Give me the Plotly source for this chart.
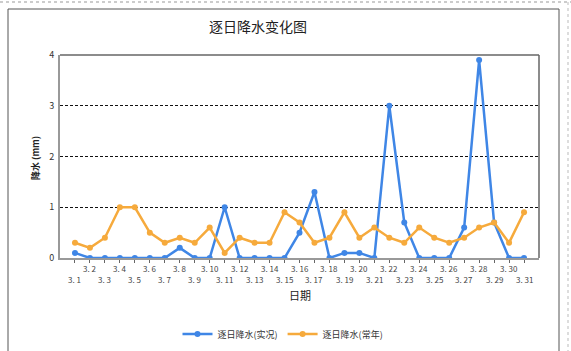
import plotly.graph_objects as go

dates = ["3.%d" % d for d in range(1, 32)]
actual = [0.1, 0, 0, 0, 0, 0, 0, 0.2, 0, 0, 1.0, 0, 0, 0, 0, 0.5, 1.3, 0, 0.1, 0.1,
          0, 3.0, 0.7, 0, 0, 0, 0.6, 3.9, 0.7, 0, 0]
normal = [0.3, 0.2, 0.4, 1.0, 1.0, 0.5, 0.3, 0.4, 0.3, 0.6, 0.1, 0.4, 0.3, 0.3, 0.9, 0.7,
          0.3, 0.4, 0.9, 0.4, 0.6, 0.4, 0.3, 0.6, 0.4, 0.3, 0.4, 0.6, 0.7, 0.3, 0.9]
series_names = ["逐日降水(实况)", "逐日降水(常年)"]
y_ticks = [0, 1, 2, 3, 4]

FONT = "Noto Sans CJK SC, Noto Sans, sans-serif"
W, H = 571, 351
L, R, T, B = 60, 539, 55, 258  # plot area in pixels
PW, PH = R - L, B - T

def px(x):
    return (x - L) / PW

def py(y):
    return (B - y) / PH

xs = list(range(1, len(dates) + 1))

fig = go.Figure()
fig.add_trace(go.Scatter(x=xs, y=actual, name=series_names[0], mode="lines+markers",
                         line=dict(color="#3f86e6", width=2.5),
                         marker=dict(color="#3f86e6", size=6)))
fig.add_trace(go.Scatter(x=xs, y=normal, name=series_names[1], mode="lines+markers",
                         line=dict(color="#f6aa3c", width=2.5),
                         marker=dict(color="#f6aa3c", size=6)))

annotations = []
for i, d in enumerate(dates):
    even_row = (i % 2 == 1)
    annotations.append(dict(x=xs[i], xref="x", y=py(268 if even_row else 279), yref="paper",
                            text=d.replace(".", ". "), showarrow=False, xanchor="center",
                            yanchor="middle", font=dict(size=8, color="#444", family=FONT)))
annotations.append(dict(x=0.5, xref="paper", y=py(295), yref="paper", text="日期",
                        showarrow=False, font=dict(size=11, color="#222", family=FONT),
                        yanchor="middle"))
annotations.append(dict(x=px(35), xref="paper", y=py(158), yref="paper", text="<b>降水 (mm)</b>",
                        textangle=-90, showarrow=False, font=dict(size=9, color="#222", family=FONT),
                        xanchor="center", yanchor="middle"))

shapes = [
    # outer frame
    dict(type="rect", xref="paper", yref="paper", x0=px(8), x1=px(559), y0=py(9), y1=py(360),
         line=dict(color="#555", width=1), layer="below"),
    # top dotted page edge
    dict(type="line", xref="paper", yref="paper", x0=px(0), x1=px(571), y0=py(2), y1=py(2),
         line=dict(color="#999", width=1, dash="dot")),
    dict(type="line", xref="paper", yref="paper", x0=px(568), x1=px(568), y0=py(2), y1=py(360),
         line=dict(color="#bbb", width=1, dash="dot")),
    # plot frame top and right
    dict(type="line", xref="paper", yref="paper", x0=0, x1=1, y0=1, y1=1,
         line=dict(color="#666", width=1.5)),
    dict(type="line", xref="paper", yref="paper", x0=1, x1=1, y0=0, y1=1,
         line=dict(color="#666", width=1.5)),
]

fig.update_layout(
    width=W, height=H,
    margin=dict(l=L, r=W - R, t=T, b=H - B, autoexpand=False),
    paper_bgcolor="white", plot_bgcolor="white",
    font=dict(family=FONT, color="#222"),
    title=dict(text="逐日降水变化图", x=258 / W, xanchor="center", y=1 - 27 / H, yanchor="middle",
               font=dict(size=14, color="#222", family=FONT)),
    xaxis=dict(range=[0, len(dates) + 1], tickvals=xs, showticklabels=False, ticks="outside",
               ticklen=3, tickcolor="#666", showgrid=False, zeroline=False,
               showline=True, linecolor="#999", linewidth=2),
    yaxis=dict(range=[0, 4], tickvals=y_ticks, showgrid=True, gridcolor="#111",
               griddash="3px,2px", gridwidth=1, zeroline=False, showline=True,
               linecolor="#999", linewidth=2, ticks="", ticklabelstandoff=2,
               tickfont=dict(size=9, color="#333")),
    legend=dict(orientation="h", x=px(283), xanchor="center", y=py(334), yanchor="middle",
                font=dict(size=9, color="#333"), itemwidth=30, bgcolor="rgba(0,0,0,0)"),
    annotations=annotations, shapes=shapes,
)

fig.write_html("out.html")
